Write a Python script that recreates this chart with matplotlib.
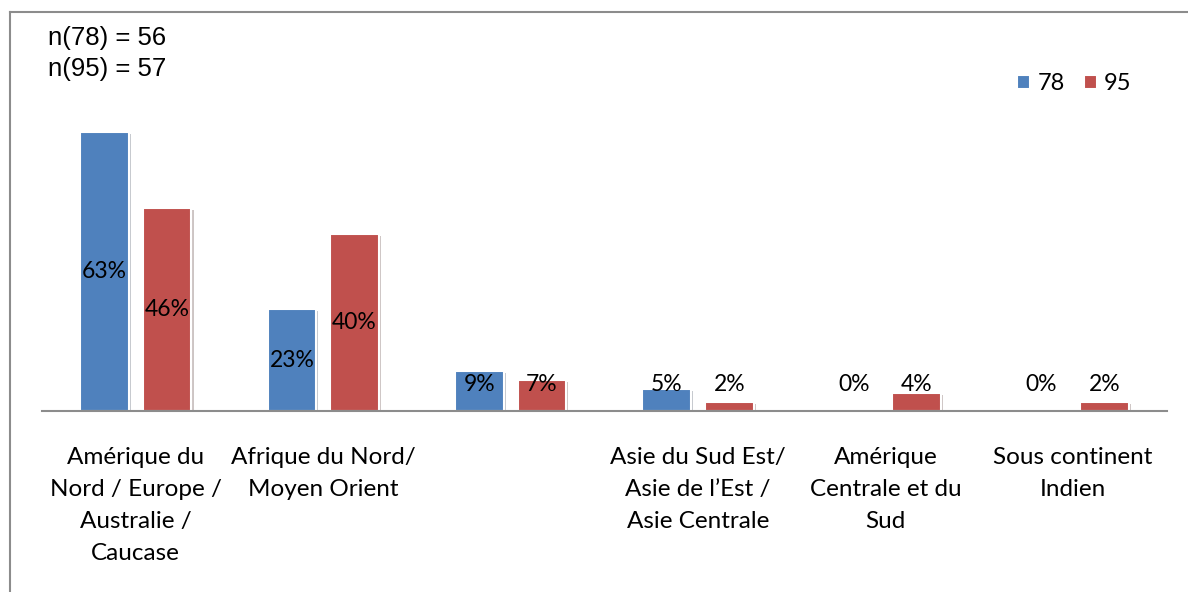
import numpy as np
import matplotlib.pyplot as plt
import matplotlib.patheffects as pe

categories = ["Amérique du\nNord / Europe /\nAustralie /\nCaucase",
              "Afrique du Nord/\nMoyen Orient",
              "",
              "Asie du Sud Est/\nAsie de l\u2019Est /\nAsie Centrale",
              "Amérique\nCentrale et du\nSud",
              "Sous continent\nIndien"]
vals_78 = [63, 23, 9, 5, 0, 0]
vals_95 = [46, 40, 7, 2, 4, 2]
series = ["78", "95"]
colors = ["#4F81BD", "#C0504D"]

plt.rcParams['font.family'] = ['Lato', 'DejaVu Sans']

fig = plt.figure(figsize=(11.88, 5.92), dpi=100)
ax = fig.add_axes([0.0354, 0.3057, 0.9466, 0.523])

x = np.arange(len(categories))
w = 0.26
shadow = [pe.SimplePatchShadow(offset=(1.5, -1.5), alpha=0.25), pe.Normal()]
for vals, off, c, name in [(vals_78, -0.167, colors[0], series[0]),
                           (vals_95, 0.167, colors[1], series[1])]:
    bars = ax.bar(x + off, vals, w, color=c, edgecolor="white", linewidth=1.5,
                  label=name)
    for b in bars:
        b.set_path_effects(shadow)
    for xi, v in zip(x + off, vals):
        ax.text(xi, max(v / 2, 5.9), f"{v}%", ha="center", va="center",
                fontsize=16.5, color="black")

ax.set_xlim(-0.5, len(categories) - 0.5)
ax.set_ylim(0, 70)
ax.set_yticks([])
ax.set_xticks(x)
ax.set_xticklabels(categories, fontsize=17.5, linespacing=1.65)
ax.tick_params(axis="x", length=0, pad=26)
for s in ["top", "right", "left"]:
    ax.spines[s].set_visible(False)
ax.spines["bottom"].set_color("#8c8c8c")
ax.spines["bottom"].set_linewidth(1.5)

leg = ax.legend(loc="upper right", bbox_to_anchor=(0.970, 0.912),
                bbox_transform=fig.transFigure, ncol=2, frameon=False,
                fontsize=17, handlelength=0.55, handleheight=0.55,
                handletextpad=0.3, columnspacing=0.8)
for h in leg.legend_handles:
    h.set_path_effects([])

fig.text(0.04, 0.909, "n(78) = 56\nn(95) = 57", fontsize=18.5,
         family="Liberation Sans", va="center", linespacing=1.36)

# outer chart border (left and top)
fig.add_artist(plt.Line2D([0.0084, 0.0084], [0.0, 0.98], color="#8c8c8c",
                          lw=1.5, transform=fig.transFigure))
fig.add_artist(plt.Line2D([0.0084, 1.0], [0.98, 0.98], color="#8c8c8c",
                          lw=1.5, transform=fig.transFigure))

fig.savefig("out.png", dpi=100)
